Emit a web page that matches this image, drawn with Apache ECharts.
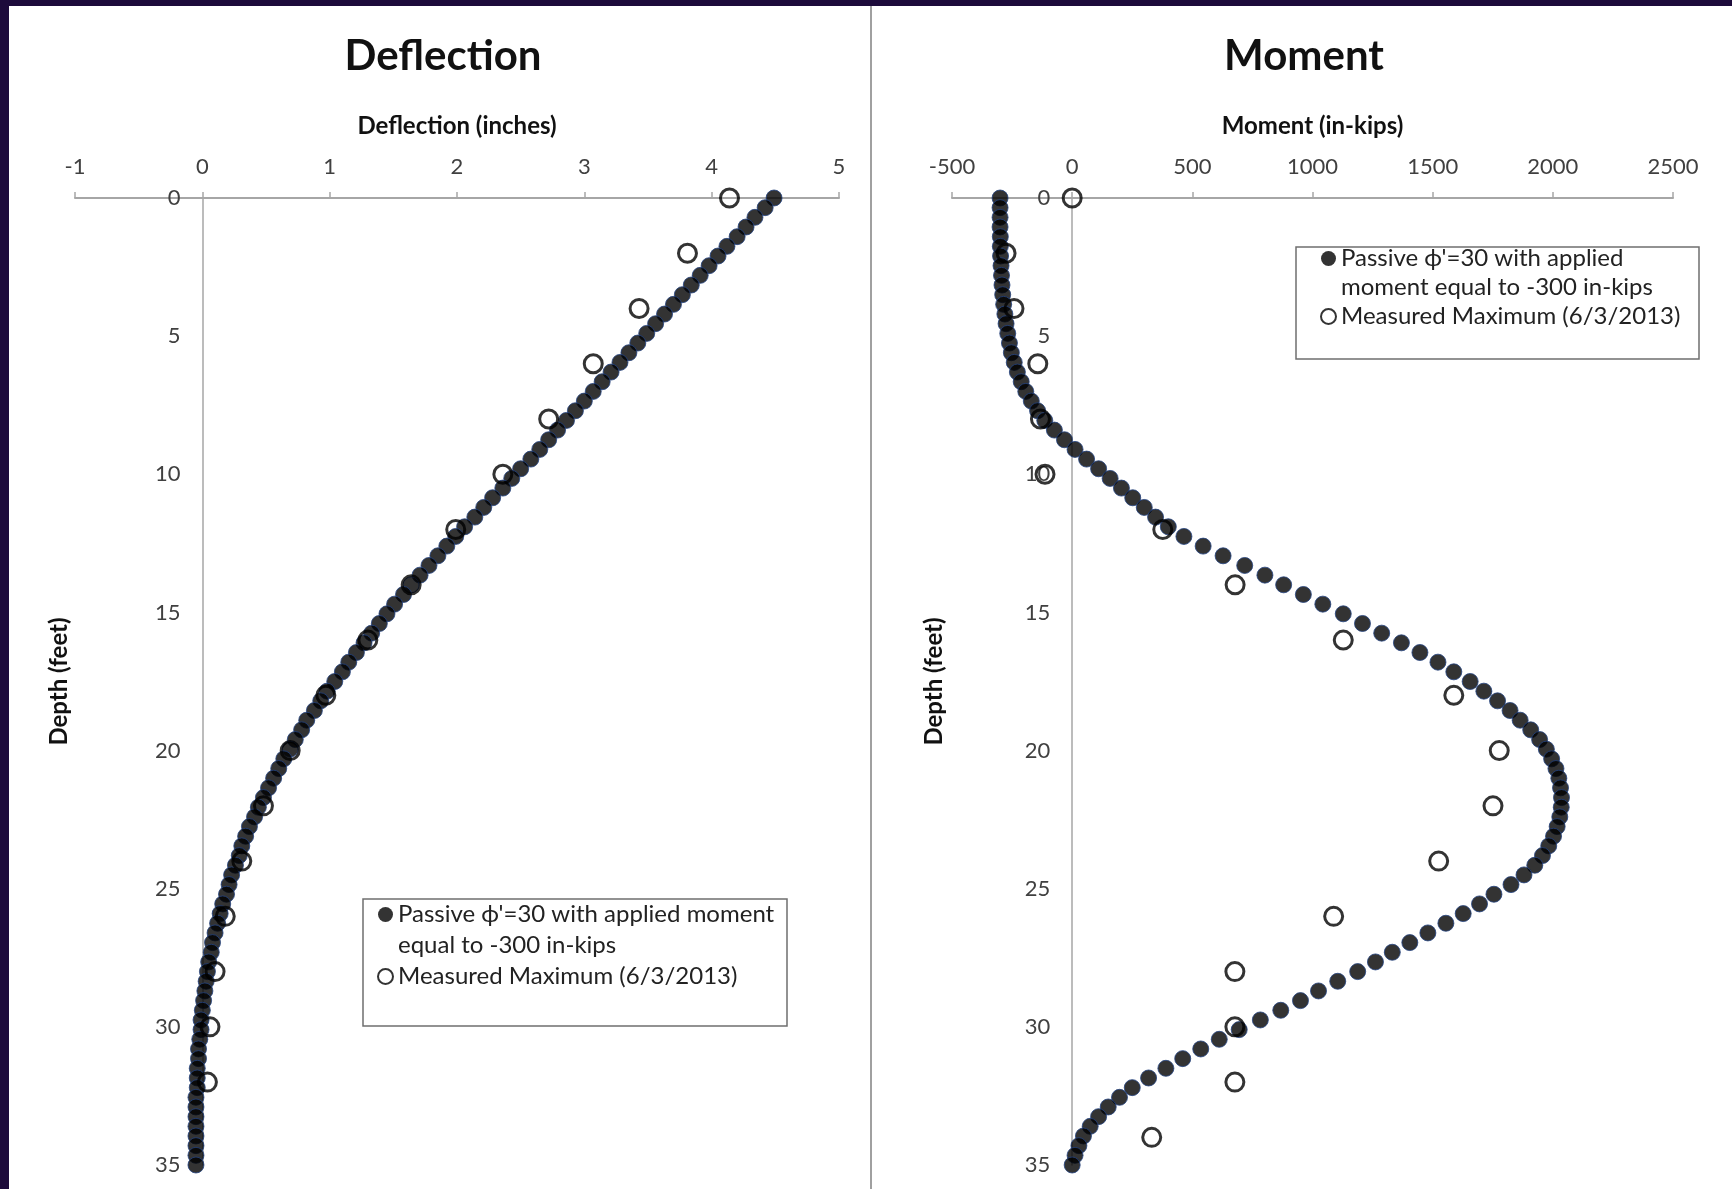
<!DOCTYPE html>
<html>
<head>
<meta charset="utf-8">
<title>Deflection and Moment</title>
<script src="https://cdn.jsdelivr.net/npm/echarts@6/dist/echarts.min.js"></script>
<style>
  html, body { margin: 0; padding: 0; background: #ffffff; }
  #chart { width: 1732px; height: 1189px; }
</style>
</head>
<body>
<div id="chart"></div>
<script>
// depth of each computed point (feet)
var depth = [
  0, 0.35, 0.7, 1.05, 1.4, 1.75, 2.1, 2.45, 2.8, 3.15,
  3.5, 3.85, 4.2, 4.55, 4.9, 5.25, 5.6, 5.95, 6.3, 6.65,
  7, 7.35, 7.7, 8.05, 8.4, 8.75, 9.1, 9.45, 9.8, 10.15,
  10.5, 10.85, 11.2, 11.55, 11.9, 12.25, 12.6, 12.95, 13.3, 13.65,
  14, 14.35, 14.7, 15.05, 15.4, 15.75, 16.1, 16.45, 16.8, 17.15,
  17.5, 17.85, 18.2, 18.55, 18.9, 19.25, 19.6, 19.95, 20.3, 20.65,
  21, 21.35, 21.7, 22.05, 22.4, 22.75, 23.1, 23.45, 23.8, 24.15,
  24.5, 24.85, 25.2, 25.55, 25.9, 26.25, 26.6, 26.95, 27.3, 27.65,
  28, 28.35, 28.7, 29.05, 29.4, 29.75, 30.1, 30.45, 30.8, 31.15,
  31.5, 31.85, 32.2, 32.55, 32.9, 33.25, 33.6, 33.95, 34.3, 34.65,
  35
];

// computed deflection (inches)
var deflectionCalc = [
  4.49, 4.42, 4.34, 4.27, 4.20, 4.12, 4.05, 3.98, 3.91, 3.84,
  3.77, 3.70, 3.63, 3.56, 3.49, 3.42, 3.35, 3.28, 3.21, 3.14,
  3.07, 3.00, 2.93, 2.86, 2.79, 2.72, 2.65, 2.58, 2.50, 2.43,
  2.36, 2.28, 2.21, 2.14, 2.06, 1.99, 1.92, 1.85, 1.78, 1.71,
  1.64, 1.58, 1.51, 1.45, 1.39, 1.33, 1.27, 1.21, 1.15, 1.10,
  1.04, 0.98, 0.93, 0.88, 0.82, 0.78, 0.73, 0.69, 0.64, 0.60,
  0.56, 0.52, 0.48, 0.44, 0.41, 0.37, 0.34, 0.31, 0.29, 0.26,
  0.23, 0.21, 0.19, 0.16, 0.14, 0.12, 0.10, 0.08, 0.07, 0.05,
  0.04, 0.03, 0.02, 0.01, 0.00, -0.01, -0.01, -0.02, -0.03, -0.03,
  -0.04, -0.04, -0.04, -0.05, -0.05, -0.05, -0.05, -0.05, -0.05, -0.05,
  -0.05
];

// computed moment (in-kips)
var momentCalc = [
  -300, -300, -300, -300, -299, -299, -298, -296, -294, -292,
  -289, -285, -280, -275, -268, -261, -253, -241, -228, -212,
  -193, -170, -144, -114, -74, -32, 12, 60, 110, 158,
  205, 252, 300, 347, 400, 465, 545, 628, 718, 802,
  880, 962, 1043, 1128, 1208, 1288, 1370, 1447, 1522, 1588,
  1656, 1713, 1770, 1822, 1864, 1908, 1945, 1973, 1995, 2013,
  2025, 2032, 2036, 2035, 2029, 2018, 2003, 1983, 1957, 1925,
  1880, 1826, 1755, 1695, 1627, 1555, 1480, 1405, 1332, 1262,
  1188, 1105, 1025, 950, 868, 783, 695, 612, 535, 460,
  390, 318, 250, 197, 150, 110, 75, 47, 28, 12,
  0
];

// measured maximum, 6/3/2013
var measuredDepth = [0, 2, 4, 6, 8, 10, 12, 14, 16, 18, 20, 22, 24, 26, 28, 30, 32, 34];
var deflectionMeasured = [4.14, 3.81, 3.43, 3.07, 2.72, 2.36, 1.99, 1.64, 1.30, 0.97, 0.69, 0.48, 0.31, 0.18, 0.10, 0.06, 0.04];
var momentMeasured = [0, -275, -242, -143, -132, -113, 377, 678, 1128, 1588, 1777, 1751, 1525, 1088, 677, 677, 677, 331];

var calcName = "Passive \u03d5'=30 with applied moment equal to -300 in-kips";
var measName = "Measured Maximum (6/3/2013)";

function pairs(xs, ys) {
  var out = [];
  for (var i = 0; i < xs.length; i++) out.push([xs[i], ys[i]]);
  return out;
}

var fontFam = "Lato, 'Open Sans', sans-serif";
var greyLine = "#a6a6a6";
var labelColor = "#404040";

function xAxisFor(idx, name, min, max, step) {
  return {
    gridIndex: idx, type: "value", position: "top",
    min: min, max: max, interval: step,
    name: name, nameLocation: "middle", nameGap: 60,
    nameTextStyle: { fontFamily: fontFam, fontWeight: "bold", fontSize: 24, color: "#111" },
    axisLine: { onZero: false, lineStyle: { color: greyLine, width: 2 } },
    axisTick: { show: true, length: 6, lineStyle: { color: greyLine, width: 1.5 } },
    axisLabel: { margin: 20, fontFamily: fontFam, fontSize: 22, color: labelColor,
      formatter: function (v) { return String(v); } },
    splitLine: { show: false }
  };
}

// y axis is shifted right onto x = 0 with a negative offset
function yAxisFor(idx, shift, gap) {
  return {
    gridIndex: idx, type: "value", inverse: true,
    min: 0, max: 35, interval: 5, offset: -shift,
    name: "Depth (feet)", nameLocation: "middle", nameRotate: 90, nameGap: gap,
    nameTextStyle: { fontFamily: fontFam, fontWeight: "bold", fontSize: 24, color: "#111" },
    axisLine: { onZero: false, lineStyle: { color: greyLine, width: 1.5 } },
    axisTick: { show: false },
    axisLabel: { margin: 22, fontFamily: fontFam, fontSize: 22, color: labelColor },
    splitLine: { show: false }
  };
}

var calcStyle = { color: "#000", borderColor: "#23427f", borderWidth: 1 };
var measStyle = { color: "rgba(0,0,0,0)", borderColor: "#000", borderWidth: 3 };

function legendFor(left, top, line1, line2, lh) {
  return {
    orient: "vertical", left: left, top: top, padding: 0, itemGap: 0,
    itemWidth: 15, itemHeight: 15,
    data: [
      { name: calcName, icon: "circle", itemStyle: { color: "#000", borderWidth: 0 } },
      { name: measName, icon: "circle", itemStyle: { color: "rgba(0,0,0,0)", borderColor: "#000", borderWidth: 2 } }
    ],
    formatter: function (n) {
      return n === calcName ? "\u00a0\n" + line1 + "\n" + line2 : n;
    },
    textStyle: { fontFamily: fontFam, fontSize: 24, color: "#222", lineHeight: lh },
    selectedMode: false
  };
}

var chart = echarts.init(document.getElementById("chart"));
chart.setOption({
  animation: false,
  backgroundColor: "#ffffff",
  title: [
    { text: "Deflection", left: 443, top: 35, textAlign: "center", padding: 0,
      textStyle: { fontFamily: fontFam, fontWeight: "bold", fontSize: 42, color: "#111" } },
    { text: "Moment", left: 1304, top: 35, textAlign: "center", padding: 0,
      textStyle: { fontFamily: fontFam, fontWeight: "bold", fontSize: 42, color: "#111" } }
  ],
  grid: [
    { left: 75, top: 198, width: 764, height: 967, containLabel: false, outerBoundsMode: "none" },
    { left: 952, top: 198, width: 721, height: 967, containLabel: false, outerBoundsMode: "none" }
  ],
  xAxis: [
    xAxisFor(0, "Deflection (inches)", -1, 5, 1),
    xAxisFor(1, "Moment (in-kips)", -500, 2500, 500)
  ],
  yAxis: [
    yAxisFor(0, 127.4, 131),
    yAxisFor(1, 120.2, 126)
  ],
  legend: [
    legendFor(377, 868, "Passive \u03d5'=30 with applied moment", "equal to -300 in-kips", 31),
    legendFor(1320, 215, "Passive \u03d5'=30 with applied", "moment equal to -300 in-kips", 29)
  ],
  graphic: [
    { type: "rect", shape: { x: 0, y: 0, width: 1732, height: 6 }, style: { fill: "#1d0b3b" } },
    { type: "rect", shape: { x: 0, y: 0, width: 9, height: 1189 }, style: { fill: "#1d0b3b" } },
    { type: "rect", shape: { x: 870, y: 6, width: 2, height: 1183 }, style: { fill: "#a0a0a0" } },
    { type: "rect", shape: { x: 363, y: 899, width: 424, height: 127 },
      style: { fill: "rgba(0,0,0,0)", stroke: "#6f6f6f", lineWidth: 1.5 } },
    { type: "rect", shape: { x: 1296, y: 247, width: 403, height: 112 },
      style: { fill: "rgba(0,0,0,0)", stroke: "#6f6f6f", lineWidth: 1.5 } }
  ],
  series: [
    { name: calcName, type: "scatter", xAxisIndex: 0, yAxisIndex: 0,
      symbol: "circle", symbolSize: 16, itemStyle: calcStyle,
      data: pairs(deflectionCalc, depth) },
    { name: measName, type: "scatter", xAxisIndex: 0, yAxisIndex: 0,
      symbol: "circle", symbolSize: 18, itemStyle: measStyle, z: 3,
      data: pairs(deflectionMeasured, measuredDepth) },
    { name: calcName, type: "scatter", xAxisIndex: 1, yAxisIndex: 1,
      symbol: "circle", symbolSize: 16, itemStyle: calcStyle,
      data: pairs(momentCalc, depth) },
    { name: measName, type: "scatter", xAxisIndex: 1, yAxisIndex: 1,
      symbol: "circle", symbolSize: 18, itemStyle: measStyle, z: 3,
      data: pairs(momentMeasured, measuredDepth) }
  ]
});
</script>
</body>
</html>
